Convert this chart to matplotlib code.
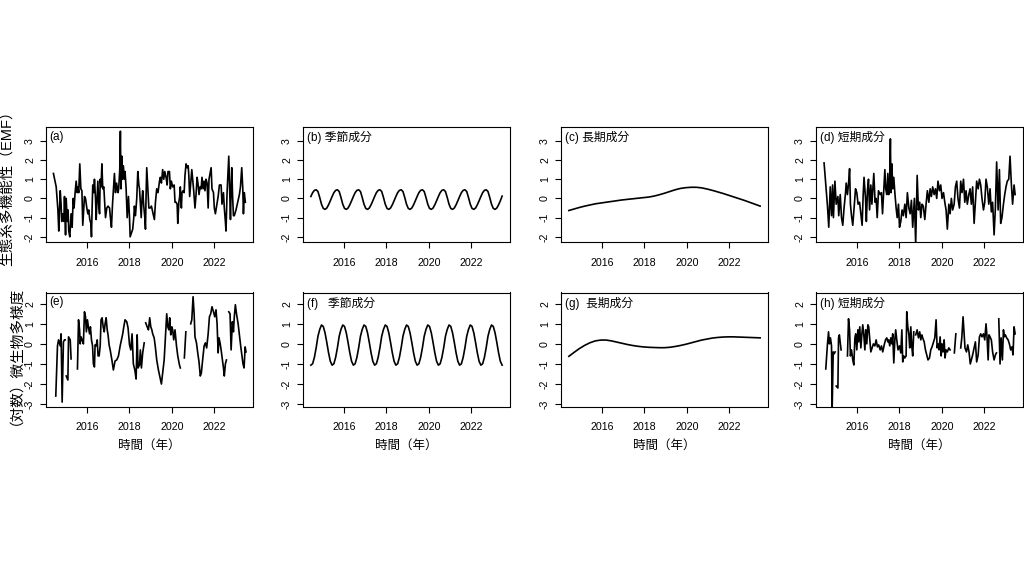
import numpy as np
import matplotlib
matplotlib.use("Agg")
import matplotlib.pyplot as plt

plt.rcParams['font.family'] = ['Liberation Sans', 'Noto Sans CJK JP']
plt.rcParams['axes.unicode_minus'] = False

# ---------------- data (decimal year, value) ----------------
# (a) EMF raw series
emf_raw = [
    (2014.43, 1.3), (2014.56, 0.6), (2014.64, -0.6), (2014.68, -1.7), (2014.75, 0.4), (2014.79, -0.3), (2014.82, -1.2), (2014.87, -0.8), (2014.92, -1.2), (2014.95, 0.1),
    (2015.00, -1.9), (2015.03, 0.0), (2015.08, -1.2), (2015.12, -0.6), (2015.15, -1.7), (2015.20, -2.0), (2015.26, -0.8), (2015.31, -1.5), (2015.36, 0.0), (2015.40, -0.5),
    (2015.45, 0.3), (2015.50, 0.9), (2015.55, 0.3), (2015.58, 0.6), (2015.62, 0.3), (2015.67, 1.8), (2015.72, 0.5), (2015.77, 0.4), (2015.81, -1.4), (2015.86, -0.5),
    (2015.89, 0.1), (2015.94, 0.0), (2016.00, -0.5), (2016.05, -0.8), (2016.09, -0.6), (2016.14, -1.1), (2016.19, -1.3), (2016.22, -2.0), (2016.25, -0.5), (2016.28, 0.7),
    (2016.33, 0.3), (2016.36, 1.0), (2016.41, 0.0), (2016.44, -1.1), (2016.49, 0.2), (2016.52, 0.9), (2016.56, -0.3), (2016.60, -0.8), (2016.63, 1.0), (2016.67, 0.6),
    (2016.71, 1.8), (2016.75, 0.5), (2016.80, 0.6), (2016.85, -0.4), (2016.88, -1.0), (2016.94, -0.5), (2017.00, -0.4), (2017.07, -0.5), (2017.11, -1.0), (2017.16, -1.5),
    (2017.21, -0.3), (2017.25, 0.4), (2017.30, 1.3), (2017.35, 0.3), (2017.40, 0.8), (2017.43, 0.6), (2017.47, 0.3), (2017.50, 0.5), (2017.55, 1.5), (2017.58, 3.5),
    (2017.61, 0.5), (2017.65, 2.2), (2017.68, 1.0), (2017.72, 1.7), (2017.77, 1.0), (2017.80, 1.4), (2017.85, 0.5), (2017.90, -1.0), (2017.96, 0.1), (2018.01, -1.0),
    (2018.04, -2.0), (2018.10, -1.8), (2018.16, -1.6), (2018.21, -1.0), (2018.24, -0.4), (2018.29, -0.9), (2018.35, 0.0), (2018.40, 1.4), (2018.45, 0.7), (2018.48, 0.5),
    (2018.52, -0.3), (2018.56, -1.0), (2018.60, 0.0), (2018.63, 0.4), (2018.68, -0.4), (2018.73, -1.0), (2018.76, -1.6), (2018.79, 0.2), (2018.82, 1.6), (2018.87, 0.5),
    (2018.92, -0.5), (2018.98, -0.5), (2019.04, -0.4), (2019.10, -0.7), (2019.18, -1.1), (2019.23, -0.2), (2019.29, 0.5), (2019.35, 0.3), (2019.42, 0.9), (2019.46, 1.1),
    (2019.51, 0.8), (2019.57, 1.5), (2019.62, 1.0), (2019.67, 1.4), (2019.73, 1.1), (2019.78, 0.7), (2019.82, 1.4), (2019.89, 1.4), (2019.93, 0.5), (2019.98, 0.9),
    (2020.04, 0.6), (2020.11, 0.7), (2020.15, -0.2), (2020.20, -0.2), (2020.25, -0.3), (2020.28, -1.3), (2020.33, -0.2), (2020.37, 0.1), (2020.40, 0.6), (2020.45, -0.5),
    (2020.48, 0.3), (2020.53, 0.4), (2020.58, 0.3), (2020.62, 1.2), (2020.67, 1.8), (2020.72, 1.6), (2020.77, 1.7), (2020.80, 1.2), (2020.84, 0.1), (2020.89, 0.8),
    (2020.94, 1.5), (2020.98, 1.0), (2021.03, 0.4), (2021.09, -0.5), (2021.14, 0.2), (2021.19, 1.1), (2021.24, 0.7), (2021.28, 0.2), (2021.33, 0.6), (2021.38, 0.5),
    (2021.42, 1.1), (2021.47, 0.5), (2021.52, 0.9), (2021.56, 0.4), (2021.61, 1.0), (2021.66, 0.8), (2021.71, -0.5), (2021.75, 1.0), (2021.80, 1.3), (2021.85, 1.6),
    (2021.89, 0.5), (2021.96, 0.3), (2022.00, -0.5), (2022.05, -0.8), (2022.11, -0.4), (2022.18, 0.1), (2022.24, 0.7), (2022.32, 0.7), (2022.36, -0.3), (2022.43, 0.3),
    (2022.47, -0.5), (2022.52, -1.2), (2022.55, -1.7), (2022.60, 0.3), (2022.65, 1.5), (2022.68, 2.2), (2022.71, 1.0), (2022.76, -1.1), (2022.79, 0.5), (2022.82, 1.6),
    (2022.86, 0.1), (2022.90, -0.9), (2022.94, -0.9), (2023.02, -0.6), (2023.10, -0.2), (2023.18, 0.2), (2023.23, 0.6), (2023.29, 1.6), (2023.34, 0.5), (2023.37, -0.8),
    (2023.41, 0.3), (2023.46, -0.2),
]

# monthly sampling for seasonal components, quarterly for trends
month_t = np.linspace(2014.45, 2023.45, 109)
quarter_t = np.linspace(2014.45, 2023.45, 37)

# (b) EMF seasonal component (monthly)
emf_season = [
    0.10, 0.30, 0.42, 0.45, 0.36, 0.05, -0.30, -0.52, -0.57, -0.50, -0.33, -0.12,
    0.10, 0.30, 0.42, 0.45, 0.36, 0.05, -0.30, -0.52, -0.57, -0.50, -0.33, -0.12,
    0.10, 0.30, 0.42, 0.45, 0.36, 0.05, -0.30, -0.52, -0.57, -0.50, -0.33, -0.12,
    0.10, 0.30, 0.42, 0.45, 0.36, 0.05, -0.30, -0.52, -0.57, -0.50, -0.33, -0.12,
    0.10, 0.30, 0.42, 0.45, 0.36, 0.05, -0.30, -0.52, -0.57, -0.50, -0.33, -0.12,
    0.10, 0.30, 0.42, 0.45, 0.36, 0.05, -0.30, -0.52, -0.57, -0.50, -0.33, -0.12,
    0.10, 0.30, 0.42, 0.45, 0.36, 0.05, -0.30, -0.52, -0.57, -0.50, -0.33, -0.12,
    0.10, 0.30, 0.42, 0.45, 0.36, 0.05, -0.30, -0.52, -0.57, -0.50, -0.33, -0.12,
    0.10, 0.30, 0.42, 0.45, 0.36, 0.05, -0.30, -0.52, -0.57, -0.50, -0.33, -0.12,
    0.12,
]

# (c) EMF long-term trend (quarterly)
emf_trend = [
    -0.63, -0.55, -0.47, -0.40, -0.34, -0.28, -0.24, -0.20, -0.16, -0.12,
    -0.08, -0.05, -0.02, 0.01, 0.04, 0.07, 0.12, 0.19, 0.27, 0.36,
    0.45, 0.52, 0.56, 0.58, 0.58, 0.55, 0.49, 0.42, 0.34, 0.26,
    0.17, 0.08, -0.01, -0.10, -0.20, -0.30, -0.40,
]

# (d) EMF short-term component
emf_short = [
    (2014.46, 1.85), (2014.62, -0.4), (2014.68, -1.5), (2014.75, 0.6), (2014.81, -0.9), (2014.86, 0.7), (2014.90, -1.0), (2014.97, 0.9), (2015.03, -0.3), (2015.11, 0.1),
    (2015.15, -0.9), (2015.22, 0.2), (2015.28, -1.0), (2015.34, -1.4), (2015.40, -0.5), (2015.47, 0.3), (2015.50, 0.8), (2015.56, 0.2), (2015.62, 0.9), (2015.66, 1.55),
    (2015.70, -0.3), (2015.75, -0.9), (2015.81, -1.4), (2015.87, -0.5), (2015.94, 0.5), (2016.00, 0.3), (2016.06, -0.3), (2016.13, -0.2), (2016.19, -0.8), (2016.25, -1.4),
    (2016.30, 0.2), (2016.34, 1.1), (2016.41, 0.0), (2016.45, -1.2), (2016.50, 0.4), (2016.55, 1.0), (2016.60, -0.6), (2016.66, 0.7), (2016.71, -0.3), (2016.75, 0.4),
    (2016.80, 1.3), (2016.86, -0.2), (2016.91, 0.0), (2016.96, -1.0), (2017.02, 0.4), (2017.10, 0.2), (2017.16, 0.3), (2017.21, -0.8), (2017.25, 0.0), (2017.32, 1.5),
    (2017.36, 0.5), (2017.41, 0.2), (2017.46, 1.3), (2017.50, 0.2), (2017.54, 0.4), (2017.58, 3.1), (2017.61, 0.3), (2017.65, 1.8), (2017.69, 0.5), (2017.74, 1.1),
    (2017.79, 0.3), (2017.85, -0.5), (2017.90, -1.0), (2017.96, -0.3), (2018.01, -1.5), (2018.07, -1.2), (2018.13, -0.6), (2018.19, -0.9), (2018.26, -0.3), (2018.32, -1.0),
    (2018.38, 0.3), (2018.45, -0.5), (2018.51, -0.8), (2018.57, -0.1), (2018.63, -1.5), (2018.71, 0.0), (2018.77, -2.4), (2018.84, 1.2), (2018.90, -0.6), (2018.96, -0.2),
    (2019.01, -1.0), (2019.07, -0.3), (2019.13, -0.4), (2019.20, -1.1), (2019.26, -0.3), (2019.32, 0.4), (2019.39, -0.2), (2019.45, 0.5), (2019.51, 0.1), (2019.57, 0.6),
    (2019.64, 0.2), (2019.70, 0.5), (2019.76, 0.0), (2019.82, 0.9), (2019.89, 0.4), (2019.95, 0.7), (2020.01, 0.0), (2020.08, 0.3), (2020.14, -0.2), (2020.20, -0.6),
    (2020.26, -1.6), (2020.33, -0.3), (2020.39, -0.8), (2020.45, 0.0), (2020.51, -0.6), (2020.58, -0.3), (2020.64, 0.6), (2020.70, 0.9), (2020.76, 0.0), (2020.83, -0.5),
    (2020.89, 0.9), (2020.95, 0.3), (2021.02, 1.0), (2021.08, -0.2), (2021.14, 0.4), (2021.20, -0.3), (2021.27, 0.2), (2021.33, 0.5), (2021.39, -0.3), (2021.45, 0.6),
    (2021.52, -1.3), (2021.58, -0.2), (2021.64, 0.9), (2021.71, 0.5), (2021.77, 1.0), (2021.83, 0.7), (2021.89, 0.0), (2021.96, -0.6), (2022.02, -0.2), (2022.08, 1.0),
    (2022.14, 0.6), (2022.21, -0.3), (2022.27, 0.5), (2022.33, -0.7), (2022.39, -0.2), (2022.46, -1.9), (2022.52, -0.5), (2022.58, 1.9), (2022.65, -0.6), (2022.71, 1.5),
    (2022.77, -1.3), (2022.83, -1.0), (2022.90, -0.3), (2022.96, 0.2), (2023.02, 0.6), (2023.08, 0.9), (2023.15, 1.0), (2023.21, 2.2), (2023.27, 0.8), (2023.33, -0.3),
    (2023.40, 0.7), (2023.45, 0.2),
]

NA = np.nan
# (e) microbial diversity (log) raw series, NaN = missing
mic_raw = [
    (2014.54, -2.6), (2014.62, -0.1), (2014.67, 0.2), (2014.75, -0.1), (2014.79, 0.5), (2014.84, -2.9), (2014.90, 0.1), (2014.95, 0.2), (2014.98, 0.2), (2015.00, NA),
    (2015.03, -1.6), (2015.11, -1.8), (2015.14, 0.35), (2015.22, 0.2), (2015.26, -0.75), (2015.40, NA),
    (2015.56, -1.25), (2015.61, 1.2), (2015.66, 0.7), (2015.69, 0.0), (2015.73, 0.35), (2015.78, 0.2), (2015.84, 0.0), (2015.89, 1.6), (2015.94, 1.35), (2015.98, 0.6),
    (2016.03, 1.2), (2016.08, 0.8), (2016.13, 0.5), (2016.17, 0.85), (2016.22, 0.2), (2016.27, -0.1), (2016.31, -1.0), (2016.36, -1.15), (2016.39, -0.05), (2016.44, -0.1),
    (2016.49, 0.2), (2016.53, -0.6), (2016.58, -0.6), (2016.63, -0.1), (2016.67, 1.2), (2016.72, 1.3), (2016.77, 0.85), (2016.82, 0.6), (2016.86, 1.0), (2016.91, 1.3),
    (2016.96, 0.7), (2017.00, 0.45), (2017.05, -0.05), (2017.10, -0.3), (2017.18, -0.8), (2017.25, -1.3), (2017.33, -0.85), (2017.41, -0.8), (2017.49, -0.6), (2017.57, -0.1),
    (2017.63, 0.2), (2017.69, 0.5), (2017.74, 0.85), (2017.80, 1.2), (2017.88, 1.1), (2017.94, 0.8), (2018.01, -0.05), (2018.07, -0.3), (2018.13, 0.5), (2018.19, -1.0),
    (2018.26, -1.3), (2018.32, -1.75), (2018.37, 0.45), (2018.41, -1.2), (2018.48, -1.05), (2018.52, -0.3), (2018.57, -1.2), (2018.63, -0.45), (2018.70, 0.05), (2018.73, NA),
    (2018.77, 1.05), (2018.84, 0.85), (2018.90, 0.7), (2018.96, 1.3), (2019.01, 0.85), (2019.06, 0.7), (2019.10, 0.5), (2019.17, 0.3), (2019.23, -0.2), (2019.29, -0.8),
    (2019.37, -1.3), (2019.45, -1.7), (2019.51, -2.0), (2019.57, -1.45), (2019.64, -0.8), (2019.70, 0.35), (2019.76, 1.5), (2019.81, 0.85), (2019.86, 0.7), (2019.90, 1.3),
    (2019.95, 0.45), (2020.00, 0.85), (2020.04, 0.7), (2020.09, 0.2), (2020.15, 0.7), (2020.22, -0.1), (2020.28, -0.6), (2020.36, -1.05), (2020.40, -1.2), (2020.50, NA),
    (2020.59, -0.7), (2020.66, 0.6), (2020.75, NA),
    (2020.89, 1.0), (2020.94, 1.2), (2021.00, 2.35), (2021.05, 1.5), (2021.09, 0.35), (2021.16, 0.05), (2021.22, -0.45), (2021.28, -0.9), (2021.34, -1.6), (2021.39, -1.45),
    (2021.45, -0.8), (2021.52, -0.1), (2021.58, 0.05), (2021.64, -0.2), (2021.71, 0.5), (2021.77, 1.35), (2021.83, 1.5), (2021.89, 1.85), (2021.96, 1.6), (2022.02, 1.35),
    (2022.08, 1.7), (2022.13, 1.0), (2022.18, -0.45), (2022.22, 0.3), (2022.27, 0.05), (2022.32, -0.3), (2022.38, -0.8), (2022.43, -1.2), (2022.47, -1.6), (2022.52, -1.0),
    (2022.57, -0.8), (2022.62, NA),
    (2022.68, 1.6), (2022.74, 1.5), (2022.79, -0.3), (2022.85, 1.1), (2022.90, 0.6), (2022.94, 1.35), (2022.99, 1.95), (2023.05, 1.45), (2023.12, 1.0), (2023.18, 0.45),
    (2023.24, -0.1), (2023.30, -0.6), (2023.35, -1.0), (2023.40, -1.2), (2023.45, -0.15), (2023.49, -0.4),
]

# (f) microbial seasonal component (monthly)
mic_season = [
    -1.06, -0.99, -0.67, -0.19, 0.38, 0.72, 0.94, 0.87, 0.55, 0.07, -0.45, -0.87,
    -1.06, -0.99, -0.67, -0.19, 0.38, 0.72, 0.94, 0.87, 0.55, 0.07, -0.45, -0.87,
    -1.06, -0.99, -0.67, -0.19, 0.38, 0.72, 0.94, 0.87, 0.55, 0.07, -0.45, -0.87,
    -1.06, -0.99, -0.67, -0.19, 0.38, 0.72, 0.94, 0.87, 0.55, 0.07, -0.45, -0.87,
    -1.06, -0.99, -0.67, -0.19, 0.38, 0.72, 0.94, 0.87, 0.55, 0.07, -0.45, -0.87,
    -1.06, -0.99, -0.67, -0.19, 0.38, 0.72, 0.94, 0.87, 0.55, 0.07, -0.45, -0.87,
    -1.06, -0.99, -0.67, -0.19, 0.38, 0.72, 0.94, 0.87, 0.55, 0.07, -0.45, -0.87,
    -1.06, -0.99, -0.67, -0.19, 0.38, 0.72, 0.94, 0.87, 0.55, 0.07, -0.45, -0.87,
    -1.06, -0.99, -0.67, -0.19, 0.38, 0.72, 0.94, 0.87, 0.55, 0.07, -0.45, -0.87,
    -1.06,
]

# (g) microbial long-term trend (quarterly)
mic_trend = [
    -0.62, -0.42, -0.23, -0.07, 0.06, 0.15, 0.19, 0.19, 0.15, 0.09,
    0.03, -0.03, -0.08, -0.12, -0.15, -0.17, -0.18, -0.19, -0.19, -0.17,
    -0.13, -0.08, -0.02, 0.05, 0.12, 0.19, 0.24, 0.29, 0.32, 0.34,
    0.35, 0.35, 0.34, 0.33, 0.32, 0.31, 0.30,
]

# (h) microbial short-term component
mic_short = [
    (2014.54, -1.25), (2014.62, 0.0), (2014.67, 0.6), (2014.71, 0.0), (2014.76, 0.3), (2014.81, -0.1), (2014.84, -3.3), (2014.89, -0.4), (2014.93, -0.5), (2014.98, -0.4),
    (2015.00, NA), (2015.03, -2.1), (2015.11, -2.2), (2015.14, 0.3), (2015.18, 0.45), (2015.26, -0.3), (2015.40, NA),
    (2015.56, -0.6), (2015.61, 1.25), (2015.66, 0.7), (2015.70, -0.6), (2015.75, -0.3), (2015.81, -0.8), (2015.86, -1.05), (2015.91, 0.3), (2015.95, 0.5), (2016.00, -0.3),
    (2016.05, 0.7), (2016.09, 0.1), (2016.14, 0.85), (2016.19, -0.2), (2016.24, 0.5), (2016.28, 0.95), (2016.33, 0.45), (2016.38, -0.3), (2016.42, 0.7), (2016.47, 0.0),
    (2016.52, 0.95), (2016.56, 0.85), (2016.61, 0.2), (2016.66, -0.4), (2016.72, -0.2), (2016.78, 0.0), (2016.85, -0.1), (2016.91, 0.2), (2016.97, -0.15), (2017.03, -0.05),
    (2017.10, -0.3), (2017.16, -0.1), (2017.22, -0.4), (2017.29, -0.05), (2017.35, 0.2), (2017.41, 0.3), (2017.46, 0.1), (2017.50, 0.2), (2017.55, -0.1), (2017.60, 0.3),
    (2017.65, 0.0), (2017.69, 0.5), (2017.74, -0.95), (2017.79, 0.2), (2017.83, 0.7), (2017.88, 0.2), (2017.94, -0.3), (2018.01, -0.1), (2018.07, -0.45), (2018.12, 0.7),
    (2018.16, -0.9), (2018.21, -0.6), (2018.26, -0.7), (2018.32, -0.6), (2018.35, 1.6), (2018.40, 0.85), (2018.45, 0.45), (2018.49, -0.2), (2018.54, 0.85), (2018.59, -0.15),
    (2018.63, -0.6), (2018.68, 0.6), (2018.73, NA),
    (2018.77, 0.45), (2018.84, 0.7), (2018.90, 0.3), (2018.96, 0.6), (2019.01, 0.2), (2019.06, 0.45), (2019.10, 0.3), (2019.17, 0.1), (2019.23, -0.3), (2019.29, -0.55),
    (2019.35, -0.8), (2019.42, -0.7), (2019.48, -0.3), (2019.54, -0.15), (2019.61, 0.1), (2019.67, 0.3), (2019.73, 1.2), (2019.78, -0.2), (2019.82, 0.0), (2019.87, -0.3),
    (2019.92, 0.35), (2019.97, -0.6), (2020.01, 0.0), (2020.06, -0.4), (2020.11, 0.2), (2020.15, -0.7), (2020.20, -0.3), (2020.26, -0.4), (2020.33, -0.2), (2020.39, -0.3),
    (2020.50, NA), (2020.59, -0.45), (2020.66, 0.5), (2020.75, NA),
    (2020.89, -0.2), (2020.94, 0.3), (2021.00, 1.35), (2021.05, 0.45), (2021.09, -0.2), (2021.16, -0.4), (2021.22, -0.05), (2021.28, -0.4), (2021.34, -1.0), (2021.39, -0.8),
    (2021.45, -0.55), (2021.52, -0.2), (2021.58, 0.1), (2021.64, -0.9), (2021.71, -0.55), (2021.77, 0.35), (2021.83, 0.5), (2021.89, 0.35), (2021.96, 0.5), (2022.02, 0.2),
    (2022.08, 1.0), (2022.13, 0.3), (2022.18, -0.8), (2022.22, 0.45), (2022.27, 0.35), (2022.33, 0.2), (2022.39, -0.4), (2022.46, -0.8), (2022.52, -0.55), (2022.57, -0.45),
    (2022.62, NA),
    (2022.68, 1.25), (2022.74, -1.0), (2022.79, 0.3), (2022.85, -0.8), (2022.90, 0.7), (2022.94, 0.35), (2022.99, 0.45), (2023.05, 0.3), (2023.12, 0.2), (2023.18, 0.0),
    (2023.24, -0.3), (2023.30, -0.15), (2023.35, -0.55), (2023.40, 0.85), (2023.45, 0.5),
]

panel_labels = ['(a)', '(b) 季節成分', '(c) 長期成分', '(d) 短期成分',
                '(e)', '(f)   季節成分', '(g)  長期成分', '(h) 短期成分']
row_ylabels = ['生態系多機能性（EMF）', '（対数）微生物多様度']
x_label = '時間（年）'
x_ticks = [2016, 2018, 2020, 2022]
row_yticks = [[-2, -1, 0, 1, 2, 3], [-3, -2, -1, 0, 1, 2]]
x_limits = (2014.08, 2023.82)
row_ylims = [(-2.27, 3.72), (-3.12, 2.56)]


def unpack(pairs):
    arr = np.array(pairs, dtype=float)
    return arr[:, 0], arr[:, 1]


series = [
    unpack(emf_raw), (month_t, np.array(emf_season)), (quarter_t, np.array(emf_trend)), unpack(emf_short),
    unpack(mic_raw), (month_t, np.array(mic_season)), (quarter_t, np.array(mic_trend)), unpack(mic_short),
]

# ---------------- layout ----------------
W, H = 1024, 572
fig = plt.figure(figsize=(W / 100, H / 100), dpi=100)
col_left = [46, 303, 561, 816]
col_w = 207
row_box = [(127, 242), (292.5, 406.5)]

for r in range(2):
    top, bot = row_box[r]
    for c in range(4):
        ax = fig.add_axes([col_left[c] / W, 1 - bot / H, col_w / W, (bot - top) / H])
        x, y = series[r * 4 + c]
        ax.plot(x, y, color='black', lw=1.2, solid_joinstyle='round')
        ax.set_xlim(*x_limits)
        ax.set_ylim(*row_ylims[r])
        ax.set_xticks(x_ticks)
        ax.set_yticks(row_yticks[r])
        ax.set_xticklabels([str(v) for v in x_ticks])
        ax.set_yticklabels([str(v) for v in row_yticks[r]])
        ax.tick_params(axis='both', direction='out', length=4.5, width=0.8,
                       labelsize=7.7, colors='black')
        ax.tick_params(axis='x', pad=7)
        ax.tick_params(axis='y', pad=3.4, labelrotation=90)
        for lab in ax.get_yticklabels():
            lab.set_verticalalignment('center')
        for sp in ax.spines.values():
            sp.set_linewidth(0.8)
            sp.set_color('black')
        ax.text(0.018, 0.965, panel_labels[r * 4 + c], transform=ax.transAxes,
                ha='left', va='top', fontsize=8.5)
        if r == 1:
            fig.text((col_left[c] + col_w / 2) / W, 1 - 446 / H, x_label,
                     ha='center', va='center', fontsize=9)

fig.text(8 / W, 1 - 185 / H, row_ylabels[0], rotation=90, ha='center', va='center', fontsize=10.5)
fig.text(8 / W, 1 - 352 / H, row_ylabels[1], rotation=90, ha='center', va='center', fontsize=10.5)

fig.savefig('out.png', dpi=100, facecolor='white')
